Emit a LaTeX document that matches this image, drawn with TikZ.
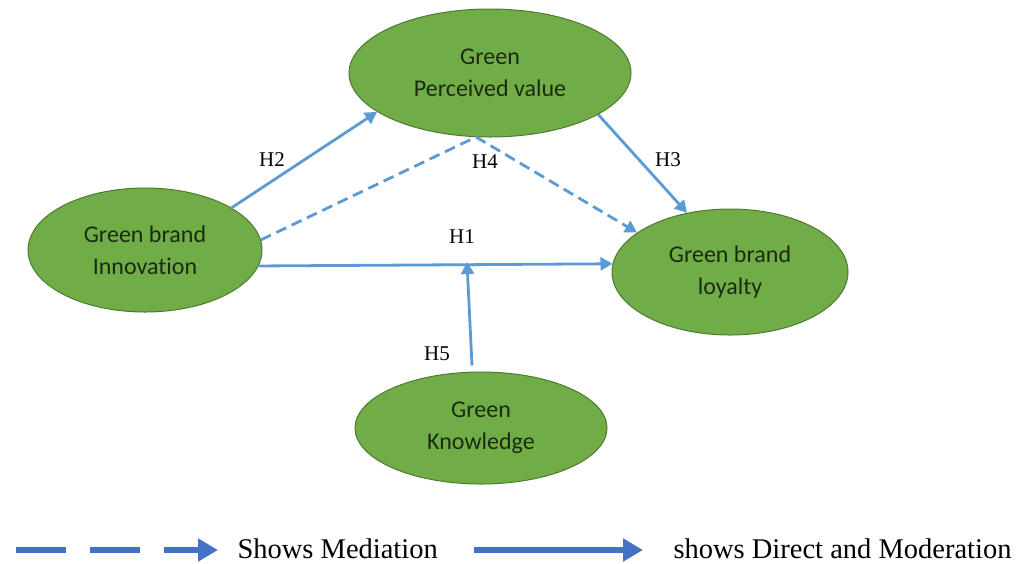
\documentclass[tikz,border=0pt]{standalone}
\usepackage{fontspec}
\setmainfont{Liberation Serif}
\newfontfamily\carlitofont[Ligatures=NoCommon]{Carlito}
\usetikzlibrary{shapes.geometric,arrows.meta,calc}
\definecolor{gfill}{HTML}{70AD47}
\definecolor{gdraw}{HTML}{4E7A30}
\definecolor{arr}{HTML}{5B9BD5}
\definecolor{legarr}{HTML}{4472C4}
\definecolor{txt}{HTML}{1C2A12}
\tikzset{
  var/.style={ellipse, fill=gfill, draw=gdraw, line width=1pt, inner sep=0pt,
    text=txt, align=center, font=\carlitofont\fontsize{24}{32}\selectfont},
  link/.style={draw=arr, line width=2.8pt, -{Triangle[length=12pt,width=13pt]}},
  med/.style={link, dash pattern=on 11pt off 6pt},
  medline/.style={draw=arr, line width=2.8pt, dash pattern=on 11pt off 6pt},
  hlab/.style={font=\fontsize{21}{24}\selectfont, text=black},
  legtext/.style={font=\fontsize{28.5}{30}\selectfont, text=black, anchor=west},
  legarrow/.style={draw=legarr, line width=6pt, -{Triangle[length=20pt,width=22pt]}}
}
\begin{document}
\begin{tikzpicture}[x=1pt,y=-1pt]
\useasboundingbox (0,0) rectangle (1032,563);
% nodes
\node[var, minimum width=282pt, minimum height=128pt] (gpv) at (490,73) {Green\\Perceived value};
\node[var, minimum width=234pt, minimum height=124pt] (inn) at (145,250) {Green brand\\Innovation};
\node[var, minimum width=236pt, minimum height=126pt] (loy) at (730,272) {Green brand\\loyalty};
\node[var, minimum width=252pt, minimum height=112pt] (knw) at (481,428) {Green\\Knowledge};
% helper coordinates
\coordinate (h4) at (476,137);
\coordinate (m) at (467,262);
% connectors
\draw[link] (inn.26) -- (gpv.199);
\draw[medline] (inn.5) -- (h4);
\draw[med] (h4) -- (loy.157);
\draw[link] (gpv.-21) -- (loy.126);
\draw[link] (inn.-8) -- (loy.176);
\draw[link] ($(knw.north)+(-9,-6)$) -- (m);
% labels
\node[hlab] (l2) at (272,160) {H2};
\node[hlab] (l4) at (485,162) {H4};
\node[hlab] (l3) at (668,160) {H3};
\node[hlab] (l1) at (462,237) {H1};
\node[hlab] (l5) at (437,354) {H5};
% legend
\coordinate (a1) at (16,550);
\coordinate (a2) at (218,550);
\coordinate (b1) at (474,550);
\coordinate (b2) at (643,550);
\draw[legarrow, dash pattern=on 50pt off 24pt] (a1) -- (a2);
\draw[legarrow] (b1) -- (b2);
\node[legtext] (t1) at (234,549) {Shows Mediation};
\node[legtext] (t2) at (670,549) {shows Direct and Moderation};
\end{tikzpicture}
\end{document}
